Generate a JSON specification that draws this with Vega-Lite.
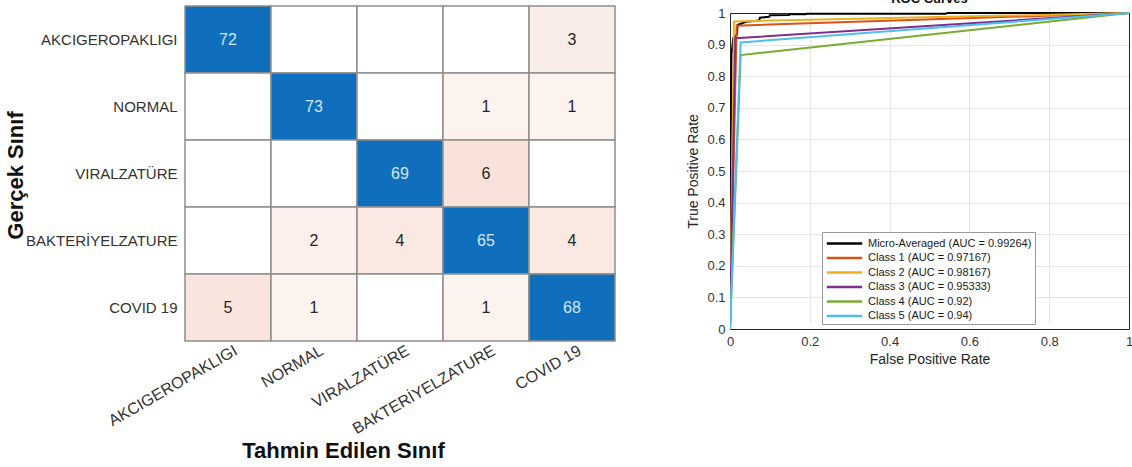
{
  "$schema": "https://vega.github.io/schema/vega-lite/v6.json",
  "background": "white",
  "padding": {"left": 3, "top": -7, "right": 0, "bottom": 0},
  "spacing": 70,
  "align": "none",
  "config": {
    "font": "Liberation Sans",
    "view": {"stroke": null},
    "axis": {"labelColor": "#333333", "titleColor": "#262626", "labelFont": "Liberation Sans", "titleFont": "Liberation Sans"}
  },
  "hconcat": [
    {
      "width": 430,
      "height": 335,
      "data": {"values": [
        {"actual": "AKCIGEROPAKLIGI", "predicted": "AKCIGEROPAKLIGI", "count": 72},
        {"actual": "AKCIGEROPAKLIGI", "predicted": "NORMAL", "count": 0},
        {"actual": "AKCIGEROPAKLIGI", "predicted": "VIRALZATÜRE", "count": 0},
        {"actual": "AKCIGEROPAKLIGI", "predicted": "BAKTERİYELZATURE", "count": 0},
        {"actual": "AKCIGEROPAKLIGI", "predicted": "COVID 19", "count": 3},
        {"actual": "NORMAL", "predicted": "AKCIGEROPAKLIGI", "count": 0},
        {"actual": "NORMAL", "predicted": "NORMAL", "count": 73},
        {"actual": "NORMAL", "predicted": "VIRALZATÜRE", "count": 0},
        {"actual": "NORMAL", "predicted": "BAKTERİYELZATURE", "count": 1},
        {"actual": "NORMAL", "predicted": "COVID 19", "count": 1},
        {"actual": "VIRALZATÜRE", "predicted": "AKCIGEROPAKLIGI", "count": 0},
        {"actual": "VIRALZATÜRE", "predicted": "NORMAL", "count": 0},
        {"actual": "VIRALZATÜRE", "predicted": "VIRALZATÜRE", "count": 69},
        {"actual": "VIRALZATÜRE", "predicted": "BAKTERİYELZATURE", "count": 6},
        {"actual": "VIRALZATÜRE", "predicted": "COVID 19", "count": 0},
        {"actual": "BAKTERİYELZATURE", "predicted": "AKCIGEROPAKLIGI", "count": 0},
        {"actual": "BAKTERİYELZATURE", "predicted": "NORMAL", "count": 2},
        {"actual": "BAKTERİYELZATURE", "predicted": "VIRALZATÜRE", "count": 4},
        {"actual": "BAKTERİYELZATURE", "predicted": "BAKTERİYELZATURE", "count": 65},
        {"actual": "BAKTERİYELZATURE", "predicted": "COVID 19", "count": 4},
        {"actual": "COVID 19", "predicted": "AKCIGEROPAKLIGI", "count": 5},
        {"actual": "COVID 19", "predicted": "NORMAL", "count": 1},
        {"actual": "COVID 19", "predicted": "VIRALZATÜRE", "count": 0},
        {"actual": "COVID 19", "predicted": "BAKTERİYELZATURE", "count": 1},
        {"actual": "COVID 19", "predicted": "COVID 19", "count": 68}
      ]},
      "encoding": {
        "x": {
          "field": "predicted", "type": "nominal",
          "sort": ["AKCIGEROPAKLIGI", "NORMAL", "VIRALZATÜRE", "BAKTERİYELZATURE", "COVID 19"],
          "axis": {
            "title": "Tahmin Edilen Sınıf", "titleFontSize": 22, "titleFontWeight": "bold", "titleColor": "#111111",
            "titleX": 158, "titleY": 109, "titleBaseline": "middle", "titleAlign": "center",
            "labelAngle": -30, "labelAlign": "right", "labelBaseline": "middle", "labelOffset": 8, "labelPadding": 8,
            "labelFontSize": 16, "ticks": false, "domain": false
          }
        },
        "y": {
          "field": "actual", "type": "nominal",
          "sort": ["AKCIGEROPAKLIGI", "NORMAL", "VIRALZATÜRE", "BAKTERİYELZATURE", "COVID 19"],
          "axis": {
            "title": "Gerçek Sınıf", "titleFontSize": 22, "titleFontWeight": "bold", "titleColor": "#111111",
            "titleX": -170, "titleY": 169, "titleBaseline": "middle", "titleAlign": "center", "titleAngle": -90,
            "labelFontSize": 15, "labelPadding": 8, "ticks": false, "domain": false
          }
        }
      },
      "layer": [
        {
          "mark": {"type": "rect", "stroke": "#8f8f8f", "strokeWidth": 1.5},
          "encoding": {
            "color": {
              "field": "count", "type": "quantitative", "legend": null,
              "scale": {"type": "linear", "domain": [0, 0.9, 1, 6, 60, 75], "range": ["#ffffff", "#ffffff", "#fcf3ef", "#f8e2d9", "#0f6fbc", "#0f6fbc"], "interpolate": "rgb"}
            }
          }
        },
        {
          "transform": [{"filter": "datum.count > 0"}],
          "mark": {"type": "text", "fontSize": 16, "font": "Liberation Sans"},
          "encoding": {
            "text": {"field": "count", "type": "quantitative"},
            "color": {"condition": {"test": "datum.count > 30", "value": "#d2e8f8"}, "value": "#262626"}
          }
        }
      ]
    },
    {
      "width": 399,
      "height": 323,
      "title": {"text": "ROC Curves", "fontSize": 13, "fontWeight": "bold", "color": "#111111", "offset": 0},
      "data": {"values": [
        {"series": "Micro-Averaged (AUC = 0.99264)", "fpr": 0, "tpr": 0},
        {"series": "Micro-Averaged (AUC = 0.99264)", "fpr": 0.002, "tpr": 0.6},
        {"series": "Micro-Averaged (AUC = 0.99264)", "fpr": 0.004, "tpr": 0.87},
        {"series": "Micro-Averaged (AUC = 0.99264)", "fpr": 0.008, "tpr": 0.92},
        {"series": "Micro-Averaged (AUC = 0.99264)", "fpr": 0.017, "tpr": 0.93},
        {"series": "Micro-Averaged (AUC = 0.99264)", "fpr": 0.019, "tpr": 0.962},
        {"series": "Micro-Averaged (AUC = 0.99264)", "fpr": 0.04, "tpr": 0.972},
        {"series": "Micro-Averaged (AUC = 0.99264)", "fpr": 0.073, "tpr": 0.976},
        {"series": "Micro-Averaged (AUC = 0.99264)", "fpr": 0.075, "tpr": 0.985},
        {"series": "Micro-Averaged (AUC = 0.99264)", "fpr": 0.098, "tpr": 0.988},
        {"series": "Micro-Averaged (AUC = 0.99264)", "fpr": 0.1, "tpr": 0.993},
        {"series": "Micro-Averaged (AUC = 0.99264)", "fpr": 0.148, "tpr": 0.994},
        {"series": "Micro-Averaged (AUC = 0.99264)", "fpr": 0.15, "tpr": 0.996},
        {"series": "Micro-Averaged (AUC = 0.99264)", "fpr": 0.19, "tpr": 0.996},
        {"series": "Micro-Averaged (AUC = 0.99264)", "fpr": 0.192, "tpr": 0.998},
        {"series": "Micro-Averaged (AUC = 0.99264)", "fpr": 0.54, "tpr": 0.998},
        {"series": "Micro-Averaged (AUC = 0.99264)", "fpr": 0.545, "tpr": 1},
        {"series": "Micro-Averaged (AUC = 0.99264)", "fpr": 1, "tpr": 1},
        {"series": "Class 1 (AUC = 0.97167)", "fpr": 0, "tpr": 0},
        {"series": "Class 1 (AUC = 0.97167)", "fpr": 0.0167, "tpr": 0.96},
        {"series": "Class 1 (AUC = 0.97167)", "fpr": 1, "tpr": 1},
        {"series": "Class 2 (AUC = 0.98167)", "fpr": 0, "tpr": 0},
        {"series": "Class 2 (AUC = 0.98167)", "fpr": 0.01, "tpr": 0.9733},
        {"series": "Class 2 (AUC = 0.98167)", "fpr": 1, "tpr": 1},
        {"series": "Class 3 (AUC = 0.95333)", "fpr": 0, "tpr": 0},
        {"series": "Class 3 (AUC = 0.95333)", "fpr": 0.0133, "tpr": 0.92},
        {"series": "Class 3 (AUC = 0.95333)", "fpr": 1, "tpr": 1},
        {"series": "Class 4 (AUC = 0.92)", "fpr": 0, "tpr": 0},
        {"series": "Class 4 (AUC = 0.92)", "fpr": 0.0267, "tpr": 0.8667},
        {"series": "Class 4 (AUC = 0.92)", "fpr": 1, "tpr": 1},
        {"series": "Class 5 (AUC = 0.94)", "fpr": 0, "tpr": 0},
        {"series": "Class 5 (AUC = 0.94)", "fpr": 0.0267, "tpr": 0.9067},
        {"series": "Class 5 (AUC = 0.94)", "fpr": 1, "tpr": 1}
      ]},
      "encoding": {
        "x": {
          "field": "fpr", "type": "quantitative", "scale": {"domain": [0, 1], "nice": false}
        },
        "y": {
          "field": "tpr", "type": "quantitative", "scale": {"domain": [0, 1], "nice": false, "range": [323, 7]}
        }
      },
      "layer": [
        {
          "mark": {"type": "line", "strokeWidth": 2, "clip": true},
          "encoding": {
            "x": {
              "field": "fpr", "type": "quantitative",
              "axis": {"title": "False Positive Rate", "titleFontSize": 14, "titleFontWeight": "normal", "titlePadding": 4,
                       "values": [0, 0.2, 0.4, 0.6, 0.8, 1], "format": "~g", "labelFontSize": 13, "labelPadding": 6,
                       "ticks": false, "domainColor": "#262626", "gridColor": "#e5e5e5", "labelFlush": false}
            },
            "y": {
              "field": "tpr", "type": "quantitative",
              "axis": {"title": "True Positive Rate", "titleFontSize": 14, "titleFontWeight": "normal", "titlePadding": 6,
                       "values": [0, 0.1, 0.2, 0.3, 0.4, 0.5, 0.6, 0.7, 0.8, 0.9, 1], "format": "~g", "labelFontSize": 13, "labelPadding": 5,
                       "ticks": false, "domainColor": "#262626", "gridColor": "#e5e5e5", "labelFlush": false}
            },
            "color": {
              "field": "series", "type": "nominal",
              "scale": {
                "domain": ["Micro-Averaged (AUC = 0.99264)", "Class 1 (AUC = 0.97167)", "Class 2 (AUC = 0.98167)", "Class 3 (AUC = 0.95333)", "Class 4 (AUC = 0.92)", "Class 5 (AUC = 0.94)"],
                "range": ["#000000", "#D95319", "#EDB120", "#7E2F8E", "#77AC30", "#4DBEEE"]
              },
              "legend": {
                "title": null, "orient": "none", "legendX": 92, "legendY": 226,
                "symbolType": "M-2.5,0H2.5", "symbolSize": 200, "symbolStrokeWidth": 2.5, "symbolOffset": 11, "labelOffset": 15,
                "labelFontSize": 11, "labelColor": "#1a1a1a", "labelLimit": 300, "rowPadding": 0.5,
                "padding": 3, "fillColor": "white", "strokeColor": "#9a9a9a"
              }
            }
          }
        },
        {
          "mark": {"type": "point", "opacity": 0},
          "encoding": {
            "x": {
              "field": "fpr", "type": "quantitative",
              "axis": {"orient": "top", "offset": -7, "title": null, "labels": false, "ticks": false, "grid": false, "domainColor": "#262626"}
            },
            "y": {
              "field": "tpr", "type": "quantitative",
              "axis": {"orient": "right", "title": null, "labels": false, "ticks": false, "grid": false, "domainColor": "#262626"}
            }
          }
        }
      ],
      "resolve": {"axis": {"x": "independent", "y": "independent"}}
    }
  ]
}
